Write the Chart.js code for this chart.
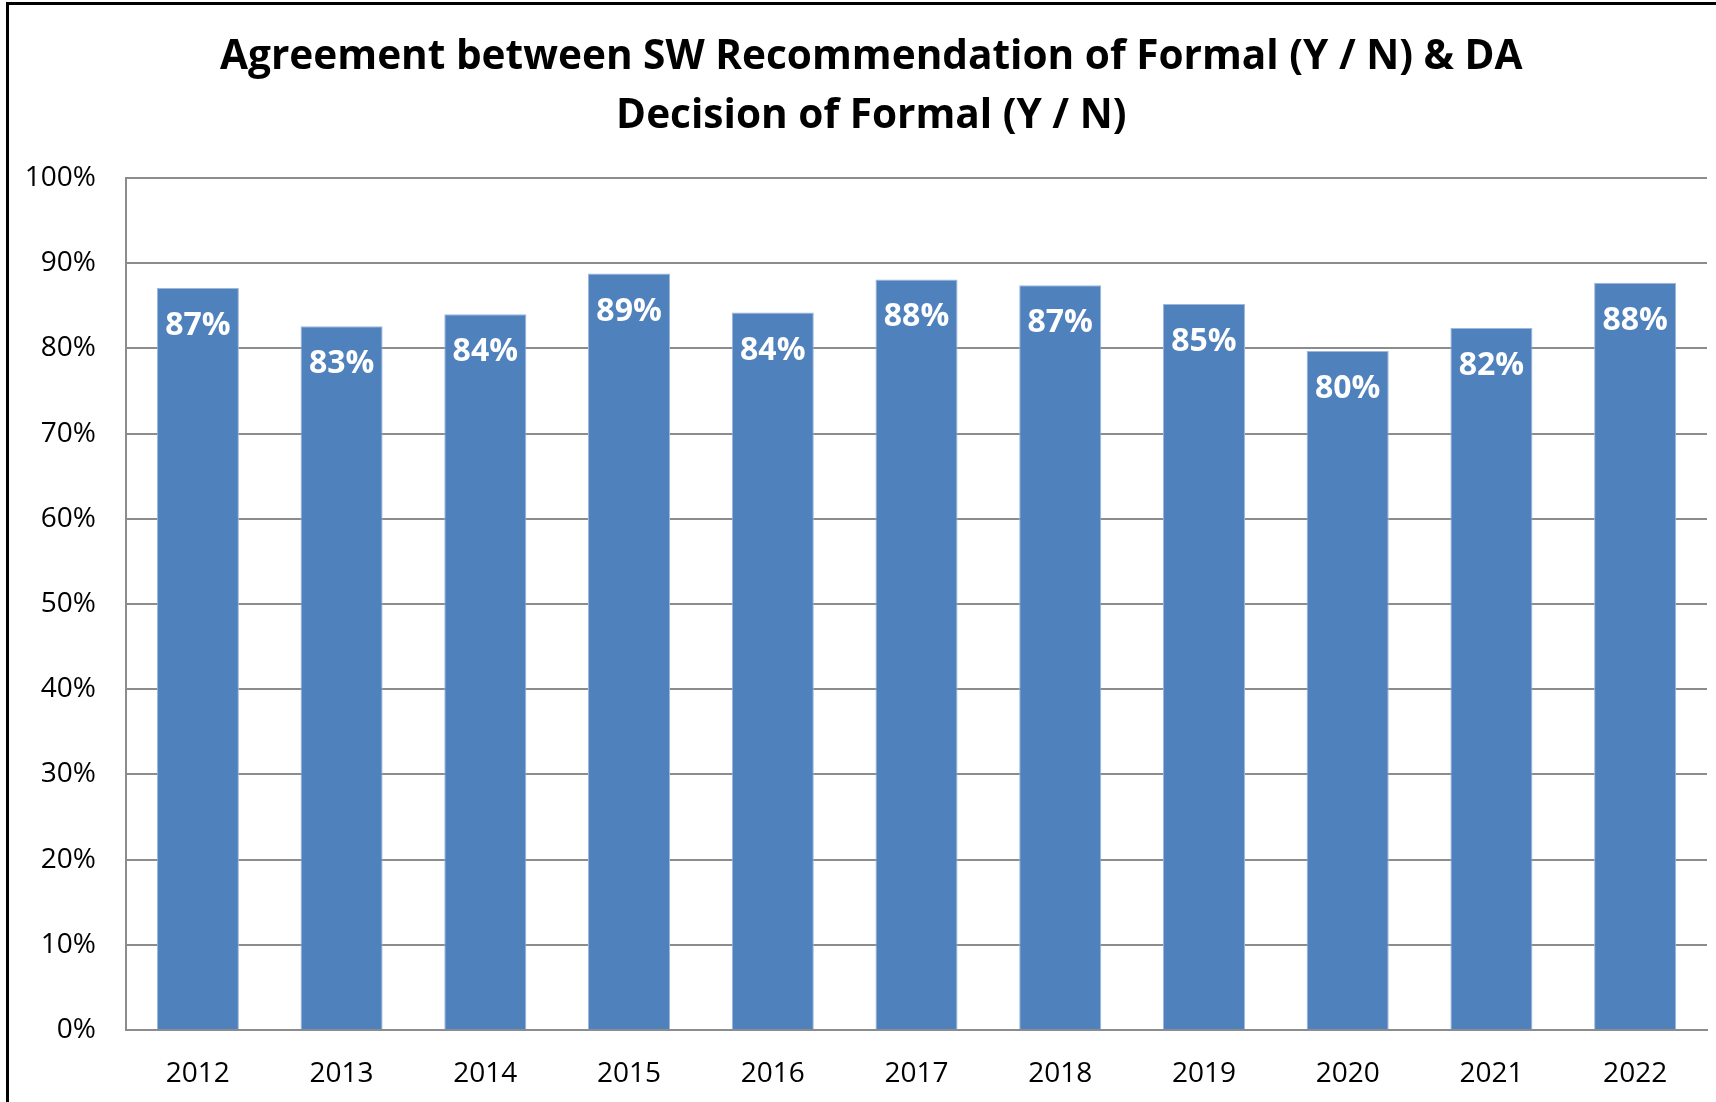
<!DOCTYPE html>
<html>
<head>
<meta charset="utf-8">
<script src="https://cdn.jsdelivr.net/npm/chart.js@4.4.1/dist/chart.umd.min.js"></script>
<style>
    html, body { margin: 0; padding: 0; background: #fff; }
    #wrap { width: 1716px; height: 1102px; position: relative; }
</style>
</head>
<body>
<div id="wrap"><canvas id="chart" width="1716" height="1102"></canvas></div>
<script>
// =====================================================
// DATA
// =====================================================
const titleLines = ['Agreement between SW Recommendation of Formal (Y / N) & DA', 'Decision of Formal (Y / N)'];
const years = ['2012', '2013', '2014', '2015', '2016', '2017', '2018', '2019', '2020', '2021', '2022'];
const agreementPct = [87.1, 82.6, 84.0, 88.8, 84.2, 88.1, 87.4, 85.2, 79.7, 82.4, 87.7];
const yTicks = [0, 10, 20, 30, 40, 50, 60, 70, 80, 90, 100];

const barColor = '#4F81BD';
const gridColor = '#8c8c8c';
const fontFamily = '"Open Sans", "Liberation Sans", sans-serif';

// the chart box runs past the right edge of the picture
const frameLeft = 7.5, frameTop = 3.5, frameRight = 1735;

// outer frame + title (title is centred on the whole frame, not the canvas)
const framePlugin = {
    id: 'frame',
    beforeDraw(chart) {
        const ctx = chart.ctx;
        ctx.save();
        ctx.fillStyle = '#fff';
        ctx.fillRect(0, 0, chart.width, chart.height);
        ctx.strokeStyle = '#000';
        ctx.lineWidth = 3;
        ctx.beginPath();
        ctx.moveTo(frameLeft, chart.height);
        ctx.lineTo(frameLeft, frameTop);
        ctx.lineTo(chart.width, frameTop);
        ctx.stroke();

        ctx.fillStyle = '#000';
        ctx.font = 'bold 40.6px ' + fontFamily;
        ctx.textAlign = 'center';
        ctx.textBaseline = 'middle';
        const cx = (frameLeft + frameRight) / 2;
        titleLines.forEach((line, i) => ctx.fillText(line, cx, 57.5 + i * 59));
        ctx.restore();
    }
};

// values written inside the top of each bar
const barLabelPlugin = {
    id: 'barLabels',
    afterDatasetsDraw(chart) {
        const ctx = chart.ctx;
        const meta = chart.getDatasetMeta(0);
        ctx.save();
        ctx.fillStyle = '#fff';
        ctx.font = 'bold 32px ' + fontFamily;
        ctx.textAlign = 'center';
        ctx.textBaseline = 'middle';
        meta.data.forEach((bar, i) => {
            ctx.fillText(Math.round(agreementPct[i]) + '%', bar.x, bar.y + 38);
        });
        ctx.restore();
    }
};

new Chart(document.getElementById('chart'), {
    type: 'bar',
    data: {
        labels: years,
        datasets: [{
            data: agreementPct,
            backgroundColor: barColor,
            borderColor: '#9db8da',
            borderWidth: 1,
            barPercentage: 0.571,
            categoryPercentage: 1.0
        }]
    },
    options: {
        responsive: false,
        animation: false,
        layout: { padding: { top: 178, left: 0, right: 9, bottom: 0 } },
        plugins: {
            legend: { display: false },
            tooltip: { enabled: false },
            title: { display: false }
        },
        scales: {
            x: {
                grid: { display: false, drawTicks: false },
                border: { display: true, color: gridColor, width: 2 },
                ticks: { color: '#000', font: { family: fontFamily, size: 28 }, padding: 27 },
                afterFit: s => { s.height = 72; }
            },
            y: {
                min: 0,
                max: 100,
                afterBuildTicks: s => { s.ticks = yTicks.map(v => ({ value: v })); },
                grid: { color: gridColor, lineWidth: 2, drawTicks: false },
                border: { display: true, color: gridColor, width: 2 },
                ticks: {
                    color: '#000',
                    font: { family: fontFamily, size: 28 },
                    padding: 30,
                    callback: v => v + '%'
                },
                afterFit: s => { s.width = 126; }
            }
        }
    },
    plugins: [framePlugin, barLabelPlugin]
});
</script>
</body>
</html>
